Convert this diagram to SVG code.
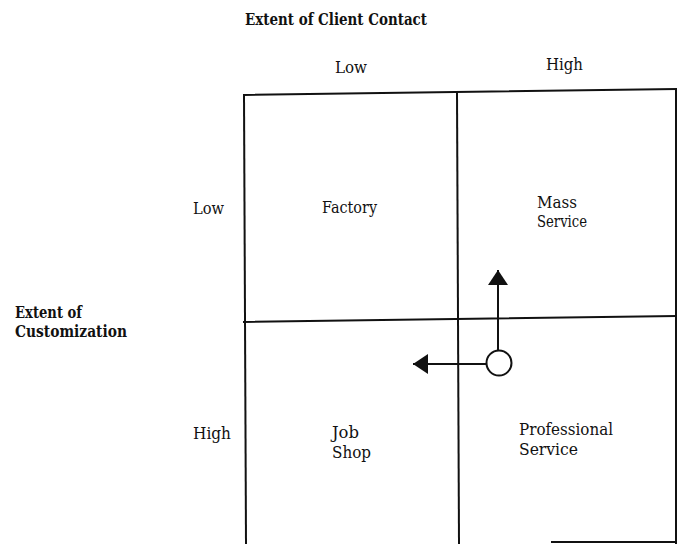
<svg xmlns="http://www.w3.org/2000/svg" width="677" height="544" viewBox="0 0 677 544">
  <style>
    .t { font-family: "DejaVu Serif", "Liberation Serif", serif; font-size: 16px; fill: #111; }
    .h { font-family: "DejaVu Serif", "Liberation Serif", serif; font-size: 16px; font-weight: bold; fill: #111; }
    .grid { stroke: #111; stroke-width: 2; fill: none; stroke-linecap: square; }
    .conn { stroke: #111; stroke-width: 2; fill: none; }
  </style>
  <defs>
    <marker id="head" markerUnits="userSpaceOnUse" markerWidth="16" markerHeight="20" refX="15" refY="10" orient="auto">
      <path d="M0,0 L15,10 L0,20 Z" fill="#111"/>
    </marker>
  </defs>
  <rect width="677" height="544" fill="#fff"/>

  <!-- axis titles -->
  <g id="axis-contact">
    <text class="h" x="245" y="25" textLength="182" lengthAdjust="spacingAndGlyphs">Extent of Client Contact</text>
    <text class="t" x="335" y="73" textLength="32" lengthAdjust="spacingAndGlyphs">Low</text>
    <text class="t" x="546" y="70" textLength="37" lengthAdjust="spacingAndGlyphs">High</text>
  </g>
  <g id="axis-customization">
    <text class="h" x="15" y="318" textLength="67" lengthAdjust="spacingAndGlyphs">Extent of</text>
    <text class="h" x="15" y="337" textLength="112" lengthAdjust="spacingAndGlyphs">Customization</text>
    <text class="t" x="193" y="214" textLength="31" lengthAdjust="spacingAndGlyphs">Low</text>
    <text class="t" x="193" y="439" textLength="38" lengthAdjust="spacingAndGlyphs">High</text>
  </g>

  <!-- 2x2 grid -->
  <g id="grid">
    <path class="grid" d="M244,95 L676,89"/>
    <path class="grid" d="M244,95 L246,544"/>
    <path class="grid" d="M457,92 L459,544"/>
    <path class="grid" d="M676,89 L676,543"/>
    <path class="grid" d="M244,322 L676,316"/>
    <path class="grid" d="M552,542 L676,542"/>
  </g>

  <!-- quadrants -->
  <g id="factory">
    <text class="t" x="322" y="213" textLength="55" lengthAdjust="spacingAndGlyphs">Factory</text>
  </g>
  <g id="mass-service">
    <text class="t" x="537" y="208" textLength="40" lengthAdjust="spacingAndGlyphs">Mass</text>
    <text class="t" x="537" y="227" textLength="50" lengthAdjust="spacingAndGlyphs">Service</text>
  </g>
  <g id="job-shop">
    <text class="t" x="332" y="438" textLength="27" lengthAdjust="spacingAndGlyphs">Job</text>
    <text class="t" x="332" y="458" textLength="39" lengthAdjust="spacingAndGlyphs">Shop</text>
  </g>
  <g id="professional-service">
    <text class="t" x="519" y="435" textLength="94" lengthAdjust="spacingAndGlyphs">Professional</text>
    <text class="t" x="519" y="455" textLength="59" lengthAdjust="spacingAndGlyphs">Service</text>
  </g>

  <!-- current position -->
  <g id="position">
    <circle cx="499" cy="363" r="12.5" fill="#fff" stroke="#111" stroke-width="2"/>
  </g>

  <!-- movement arrows -->
  <g id="connectors">
    <line class="conn" x1="498" y1="350" x2="498" y2="270" marker-end="url(#head)"/>
    <line class="conn" x1="486" y1="364" x2="413" y2="364" marker-end="url(#head)"/>
  </g>
</svg>
